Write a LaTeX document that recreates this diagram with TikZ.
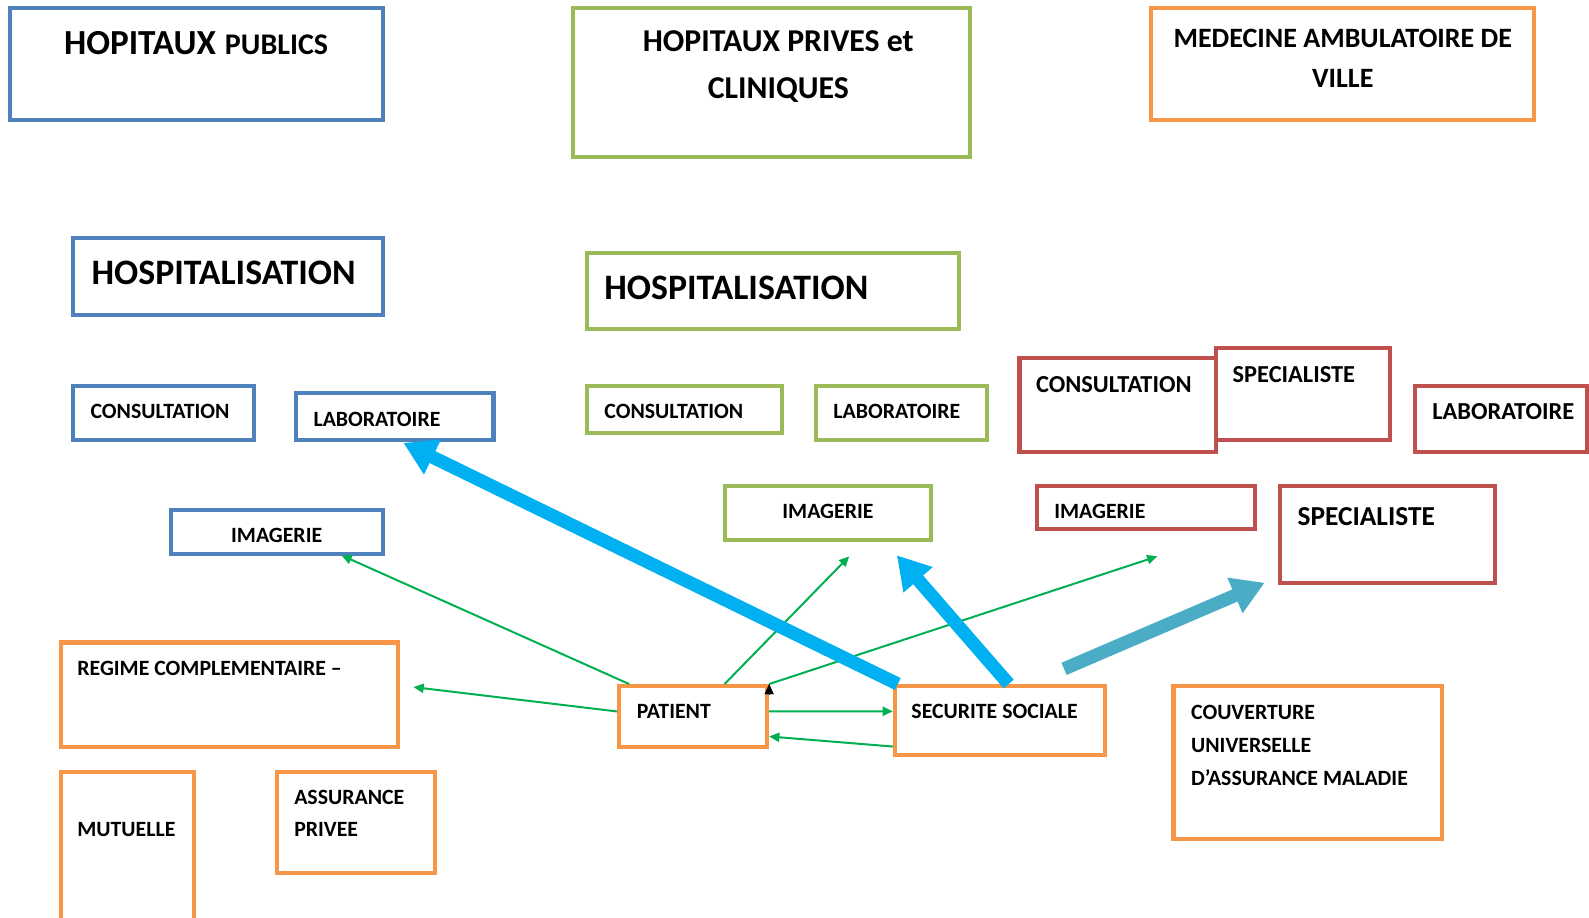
\documentclass[tikz,border=0pt]{standalone}
\usepackage{fontspec}
\setmainfont{Carlito}
\usepackage{tikz}
\usetikzlibrary{arrows.meta,positioning,calc}
\usepackage{xcolor}
\definecolor{pubblue}{RGB}{79,129,189}
\definecolor{privgreen}{RGB}{155,187,89}
\definecolor{villeorange}{RGB}{247,150,70}
\definecolor{villered}{RGB}{192,80,77}
\definecolor{linkgreen}{RGB}{0,176,80}
\definecolor{flowcyan}{RGB}{0,176,240}
\definecolor{flowteal}{RGB}{75,172,198}
\newlength\pxu
\setlength\pxu{0.5067pt}
\tikzstyle{cadre} = [rectangle, draw, line width=4\pxu, inner sep=0pt]
\tikzstyle{txt} = [inner sep=0pt, anchor=base west, font=\bfseries\fontsize{10.9}{13}\selectfont]
\tikzstyle{txtred} = [txt, font=\bfseries\fontsize{12.2}{14}\selectfont]
\tikzstyle{txthosp} = [txt, font=\bfseries\fontsize{17.9}{21}\selectfont]
\tikzstyle{link} = [color=linkgreen, line width=1pt, -{Triangle[length=5.1pt,width=4.6pt]}]
\tikzstyle{flow} = [line width=6.6pt, -{Triangle[length=16.2pt,width=18.2pt]}]

\begin{document}
\begin{tikzpicture}[x=0.5067pt, y=-0.5067pt]
    \useasboundingbox (0,0) rectangle (1568,905);
    \clip (0,0) rectangle (1568,905);

    % Column headers
    \node[cadre, draw=pubblue, minimum width=368\pxu, minimum height=110\pxu] (hpub) at (194,63) {};
    \node[cadre, draw=privgreen, minimum width=392\pxu, minimum height=147\pxu] (hpriv) at (761,81.5) {};
    \node[cadre, draw=villeorange, minimum width=378\pxu, minimum height=110\pxu] (ville) at (1325,63) {};
    \node[txt, anchor=base, font=\bfseries] (hpub-t) at (193.5,54)
        {{\fontsize{17.6}{21}\selectfont HOPITAUX}\hspace{4.5pt}{\fontsize{15}{18}\selectfont PUBLICS}};
    \node[txt, anchor=north, align=center, font=\bfseries\fontsize{15.9}{23.3}\selectfont] (hpriv-t) at (768,30)
        {HOPITAUX PRIVES et\\CLINIQUES};
    \node[txt, anchor=north, align=center, font=\bfseries\fontsize{14}{20.3}\selectfont] (ville-t) at (1325,28)
        {MEDECINE AMBULATOIRE DE\\VILLE};

    % Hospitalisation
    \node[cadre, draw=pubblue, minimum width=306\pxu, minimum height=76\pxu] (hosp1) at (225,273) {};
    \node[cadre, draw=privgreen, minimum width=367\pxu, minimum height=75\pxu] (hosp2) at (762.5,287.5) {};
    \node[txthosp] (hosp1-t) at (90,281) {HOSPITALISATION};
    \node[txthosp] (hosp2-t) at (596,296) {HOSPITALISATION};

    % Consultation / laboratoire
    \node[cadre, draw=pubblue, minimum width=179\pxu, minimum height=53\pxu] (cons1) at (161.5,407.5) {};
    \node[cadre, draw=pubblue, minimum width=195\pxu, minimum height=46\pxu] (lab1) at (389.5,411) {};
    \node[cadre, draw=privgreen, minimum width=193\pxu, minimum height=46\pxu] (cons2) at (675.5,404) {};
    \node[cadre, draw=privgreen, minimum width=169\pxu, minimum height=53\pxu] (lab2) at (889.5,407.5) {};
    \node[cadre, draw=villered, minimum width=194\pxu, minimum height=93\pxu] (cons3) at (1103,399.5) {};
    \node[cadre, draw=villered, minimum width=172\pxu, minimum height=91\pxu] (spec1) at (1286,388.5) {};
    \node[cadre, draw=villered, minimum width=170\pxu, minimum height=65\pxu] (lab3) at (1481,413.5) {};
    \node[txt] (cons1-t) at (89,413) {CONSULTATION};
    \node[txt] (lab1-t) at (309,421) {LABORATOIRE};
    \node[txt] (cons2-t) at (596,413) {CONSULTATION};
    \node[txt] (lab2-t) at (822,413) {LABORATOIRE};
    \node[txtred] (cons3-t) at (1022,387) {CONSULTATION};
    \node[txtred] (spec1-t) at (1216,377) {SPECIALISTE};
    \node[txtred] (lab3-t) at (1413,414) {LABORATOIRE};

    % Imagerie
    \node[cadre, draw=pubblue, minimum width=209\pxu, minimum height=44\pxu] (img1) at (273.5,525) {};
    \node[cadre, draw=privgreen, minimum width=204\pxu, minimum height=53\pxu] (img2) at (817,506.5) {};
    \node[cadre, draw=villered, minimum width=215\pxu, minimum height=42\pxu] (img3) at (1130.5,501) {};
    \node[cadre, draw=villered, minimum width=212\pxu, minimum height=95\pxu] (spec2) at (1369,527.5) {};
    \node[txt, anchor=base] (img1-t) at (273,535) {IMAGERIE};
    \node[txt, anchor=base] (img2-t) at (817,512) {IMAGERIE};
    \node[txt] (img3-t) at (1040,512) {IMAGERIE};
    \node[txt, font=\bfseries\fontsize{13.7}{16}\selectfont] (spec2-t) at (1280,519) {SPECIALISTE};

    % Financeurs
    \node[cadre, draw=villeorange, minimum width=333\pxu, minimum height=103\pxu] (regime) at (226.5,685.5) {};
    \node[cadre, draw=villeorange, minimum width=146\pxu, minimum height=60\pxu] (patient) at (684,707) {};
    \node[cadre, draw=villeorange, minimum width=207\pxu, minimum height=68\pxu] (secu) at (986.5,711) {};
    \node[cadre, draw=villeorange, minimum width=265\pxu, minimum height=151\pxu] (cmu) at (1290.5,752.5) {};
    \node[cadre, draw=villeorange, minimum width=131\pxu, minimum height=168\pxu] (mutuelle) at (125.5,846) {};
    \node[cadre, draw=villeorange, minimum width=156\pxu, minimum height=99\pxu] (assur) at (351,811.5) {};
    \node[txt] (regime-t) at (76,667) {REGIME COMPLEMENTAIRE --};
    \node[txt] (patient-t) at (628,709) {PATIENT};
    \node[txt] (secu-t) at (899,709) {SECURITE SOCIALE};
    \node[txt, anchor=north west, align=left, font=\bfseries\fontsize{10.9}{16.5}\selectfont] (cmu-t) at (1175,695)
        {COUVERTURE\\UNIVERSELLE\\D’ASSURANCE MALADIE};
    \node[txt] (mutuelle-t) at (76,825) {MUTUELLE};
    \node[txt, anchor=north west, align=left, font=\bfseries\fontsize{10.9}{16.2}\selectfont] (assur-t) at (290,779)
        {ASSURANCE\\PRIVEE};

    % Free ends
    \coordinate (toimg1) at (337,548);
    \coordinate (toimg2) at (838,549);
    \coordinate (toimg3) at (1142,549);
    \coordinate (toregime) at (408,678);
    \coordinate (tohosp) at (885,548);
    \coordinate (tolab) at (398,437);
    \coordinate (fromsecu) at (1050,660);
    \coordinate (tospec) at (1248,575);

    % Patient links
    \draw[link] ([xshift=6pt]patient.north west) -- (toimg1);
    \draw[link] ([xshift=15.7pt]patient.north) -- (toimg2);
    \draw[link] (patient.north east) -- (toimg3);
    \draw[link] ([yshift=2.5pt]patient.west) -- (toregime);
    \draw[link] ([yshift=2.5pt]patient.east) -- ([yshift=4.6pt]secu.west);
    \draw[link] ([yshift=-13pt]secu.west) -- ([yshift=-10pt]patient.east);
    \draw[black, line width=0.1pt, -{Triangle[length=5.1pt,width=4.6pt]}] ([yshift=-5pt]patient.north east) -- (patient.north east);

    % Big arrows
    \draw[flow, flowcyan] ([xshift=2.5pt]secu.north west) -- (tolab);
    \draw[flow, flowcyan] ([xshift=4.5pt]secu.north) -- (tohosp);
    \draw[flow, flowteal] (fromsecu) -- (tospec);
\end{tikzpicture}
\end{document}
